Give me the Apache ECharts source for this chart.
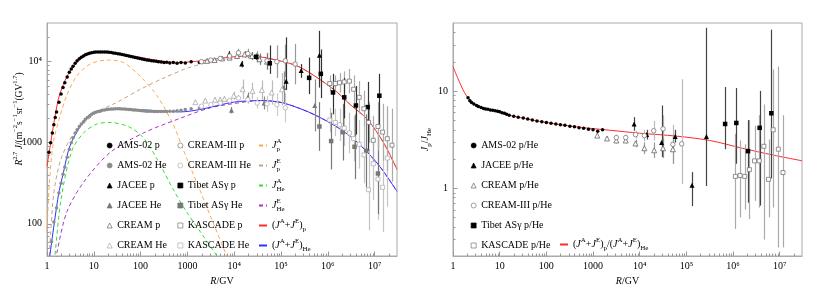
<!DOCTYPE html>
<html><head><meta charset="utf-8">
<script src="https://cdn.jsdelivr.net/npm/echarts@6/dist/echarts.min.js"></script>
<style>html,body{margin:0;padding:0;background:#fff}#c{width:830px;height:297px}</style>
</head><body><div id="c"></div>
<script>
// ---------- Left panel: model curves (R in GV, R^2.7 J) ----------
const curvePA_R = [1.0, 1.122, 1.365, 1.905, 2.63, 4.266, 8.318, 19.05, 42.66, 97.7, 223.9, 501, 831.8, 1862, 3981, 6918, 8913];
const curvePA_Y = [79, 316, 1000, 2138, 3802, 6607, 9333, 10470, 9772, 6607, 3802, 1660, 794, 257, 87, 40, 28];
const curvePE_R = [1.12, 1.202, 1.413, 1.995, 3.631, 11.48, 31.62, 100, 316.2, 1000, 3162, 10000, 21880, 79430, 257000, 1318000, 3020000, 6920000, 15500000, 30000000];
const curvePE_Y = [40, 79.4, 251, 631, 1259, 2344, 3162, 4571, 6310, 8318, 10000, 11220, 11750, 10470, 8510, 4570, 2950, 1950, 1000, 468];
const curveHeA_R = [1.413, 1.479, 1.995, 3.388, 6.026, 11.48, 22.39, 58.88, 114.8, 223.9, 501, 1000, 1995, 4266, 5012];
const curveHeA_Y = [28, 40, 200, 794, 1318, 1698, 1778, 1549, 1148, 631, 263, 135, 76, 40, 34];
const curveHeE_R = [1.549, 1.622, 2.63, 6.026, 22.39, 114.8, 692, 3090, 15490, 36310, 112200, 588800, 3020000, 11220000, 30000000];
const curveHeE_Y = [35.5, 43.7, 138, 324, 759, 1318, 1995, 2692, 3162, 3311, 3090, 2138, 1202, 562, 251];
const curveTotP_R = [1.0, 1.365, 1.738, 2.239, 3.09, 5.13, 8.32, 17.38, 69.18, 263, 692, 1862, 9550, 21880, 79430, 257000, 1318000, 3020000, 6920000, 15500000, 30000000];
const curveTotP_Y = [513, 1585, 3390, 5250, 7590, 10720, 12590, 13180, 11750, 10230, 9770, 10230, 11480, 11750, 10470, 8510, 4570, 2950, 1950, 1000, 468];
const curveTotHe_R = [1.148, 1.738, 2.239, 3.09, 5.13, 8.32, 13.49, 30.9, 158.5, 692, 1862, 9550, 36310, 112200, 588800, 3020000, 11220000, 30000000];
const curveTotHe_Y = [40, 219, 427, 912, 1585, 2239, 2512, 2630, 2512, 2399, 2570, 3162, 3311, 3090, 2138, 1202, 562, 251];

// ---------- Left panel: measurements ----------
const amsP_R = [1.1,1.2,1.3,1.4,1.5,1.6,1.8,2.0,2.2,2.4,2.7,3.0,3.3,3.6,4.0,4.4,4.9,5.4,6.0,6.6,7.3,8.1,9.0,10,11,12.3,13.7,15.2,17,19,21,23.5,26,29,32.5,36,40,45,50,56,62,69,77,86,96,107,120,135,150,170,190,215,240,275,315,360,420,500,600,730,900,1200,1800];
const amsP_Y = [760,1000,1320,1660,2040,2400,3160,3980,4790,5500,6460,7410,8130,8810,9550,10230,10840,11350,11750,12160,12450,12740,12880,13030,13120,13180,13180,13180,13180,13120,13030,12940,12820,12700,12560,12400,12250,12080,11910,11750,11590,11430,11270,11120,10960,10810,10670,10520,10400,10280,10180,10090,10000,9910,9770,9820,9660,9770,9550,9770,9660,10000,9770];
const amsHe_R = [1.25,1.4,1.6,1.8,2.0,2.2,2.4,2.7,3.0,3.3,3.6,4.0,4.4,4.9,5.4,6.0,6.6,7.3,8.1,9.0,10,11,12.3,13.7,15.2,17,19,21,23.5,26,29,32.5,36,40,45,50,56,62,69,77,86,96,107,120,135,150,170,190,215,240,275,315,360,420,500,600,730,900,1200,1800];
const amsHe_Y = [60,105,158,240,316,407,501,661,832,1000,1150,1320,1450,1585,1700,1820,1950,2040,2140,2240,2320,2370,2430,2450,2510,2540,2570,2580,2600,2610,2620,2620,2620,2610,2600,2590,2570,2560,2540,2530,2510,2500,2480,2470,2450,2440,2440,2430,2420,2420,2420,2430,2430,2450,2450,2480,2510,2570,2630,2690];
const jaceeP_R = [7760, 14450, 128800, 269000, 661000];
const jaceeP_Y = [12300, 9330, 5750, 7760, 12020];
const jaceeP_lo = [11220, 8510, 4467, 6310, 4786];
const jaceeP_hi = [13490, 10230, 19950, 9333, 23990];
const jaceeHe_R = [8710, 19500, 43650, 114800, 524800];
const jaceeHe_Y = [2512, 3631, 3090, 4786, 2884];
const jaceeHe_lo = [2291, 3162, 2570, 3020, 1380];
const jaceeHe_hi = [2754, 4169, 3715, 7590, 6030];
const creamP_R = [2630, 3802, 5495, 7943, 11480, 16600, 23990, 34670, 50120];
const creamP_Y = [10230, 10470, 10960, 11220, 11750, 12300, 11750, 10720, 10000];
const creamP_lo = [9770, 10000, 10470, 10470, 10960, 11220, 10470, 9120, 7940];
const creamP_hi = [10720, 10960, 11480, 12020, 12590, 13490, 13180, 12590, 12590];
const creamHe_R = [1479, 2399, 3890, 5012, 6166, 9772, 15140, 24550, 38900, 63100, 104700];
const creamHe_Y = [3162, 3311, 3388, 3388, 3467, 3802, 4571, 4365, 4467, 4169, 4571];
const creamHe_lo = [3020, 3162, 3162, 3162, 3236, 3388, 3467, 3467, 3388, 2951, 2884];
const creamHe_hi = [3311, 3467, 3631, 3631, 3715, 4266, 6026, 5495, 5888, 5888, 7244];
const cream3P_R = [1995, 3162, 5012, 7943, 12300, 19500, 30900, 50120, 81280, 123000, 199500];
const cream3P_Y = [10000, 10470, 10960, 11750, 12880, 12590, 11480, 10230, 10000, 10230, 9330];
const cream3P_lo = [9550, 10000, 10470, 10960, 11480, 10960, 9770, 8130, 6310, 6460, 5250];
const cream3P_hi = [10470, 10960, 11480, 12590, 14450, 14450, 13490, 12880, 15850, 16220, 16600];
const cream3He_R = [1995, 3162, 5012, 7943, 12300, 19500, 30900, 50120, 81280, 123000];
const cream3He_Y = [2818, 2951, 3090, 3311, 3548, 3388, 3090, 3020, 2951, 2692];
const cream3He_lo = [2692, 2818, 2884, 3090, 3236, 3020, 2630, 2399, 2138, 1778];
const cream3He_hi = [2951, 3090, 3311, 3548, 3890, 3802, 3631, 3802, 4074, 4074];
const tibetP_R = [29510, 57540, 398100, 707900, 1288000, 2239000, 3981000, 7079000, 12590000];
const tibetP_Y = [11480, 9550, 6310, 7080, 4170, 3630, 2880, 2750, 3800];
const tibetP_lo = [10470, 7080, 3980, 3550, 2240, 2000, 1260, 794, 1585];
const tibetP_hi = [12590, 15850, 11220, 14130, 7080, 6310, 5010, 5620, 7080];
const tibetHe_R = [660700, 1175000, 2089000, 3715000, 6607000, 11750000];
const tibetHe_Y = [1585, 1047, 1349, 891, 794, 417];
const tibetHe_lo = [794, 468, 603, 355, 282, 132];
const tibetHe_hi = [3162, 2344, 3020, 2239, 2239, 1318];
const kascadeP_R = [1096000, 1445000, 1778000, 2239000, 2884000, 3548000, 4677000, 5888000, 7413000, 9333000, 11750000, 14790000, 18620000, 23440000];
const kascadeP_Y = [5370, 5370, 5500, 5620, 5750, 4570, 3630, 2630, 1780, 1070, 1585, 1350, 1120, 933];
const kascadeP_lo = [4270, 4270, 4170, 4170, 4070, 3090, 2290, 1585, 1000, 537, 794, 603, 447, 331];
const kascadeP_hi = [6760, 6760, 7240, 7590, 8130, 6760, 5750, 4370, 3160, 2140, 3160, 3020, 2820, 2630];
const kascadeHe_R = [1096000, 1445000, 1778000, 2239000, 2884000, 3548000, 4677000, 5888000, 7413000, 9333000, 11750000, 14790000, 18620000];
const kascadeHe_Y = [1905, 1778, 1660, 1514, 1318, 1122, 955, 708, 263, 550, 355, 282, 646];
const kascadeHe_lo = [1349, 1202, 1047, 912, 741, 589, 479, 316, 83, 195, 112, 79, 162];
const kascadeHe_hi = [2692, 2630, 2630, 2512, 2344, 2138, 1905, 1585, 832, 1549, 1122, 1000, 2570];

// ---------- Right panel: p/He ratio ----------
const ratio_R = [1, 1.38, 1.95, 3.162, 7.244, 16.22, 85.11, 436.5, 2291, 10000, 60260, 316200, 1585000, 7079000, 30000000];
const ratio_Y = [17.8, 12.3, 8.91, 7.08, 6.31, 5.62, 4.79, 4.27, 3.94, 3.67, 3.43, 3.09, 2.57, 2.19, 1.91];
const amsRat_R = [2.1,2.3,2.5,2.8,3.2,3.5,4.0,4.5,5.0,5.6,6.3,7.1,8,9,10,11.2,12.6,14.1,16,20,25,32,40,50,63,80,100,126,160,200,250,320,400,500,630,800,1000,1260,1600];
const amsRat_Y = [8.51,7.94,7.59,7.33,7.08,6.92,6.76,6.61,6.53,6.46,6.38,6.31,6.24,6.17,6.10,5.96,5.89,5.75,5.62,5.50,5.37,5.25,5.13,5.01,4.90,4.82,4.73,4.66,4.57,4.49,4.42,4.34,4.27,4.17,4.12,4.03,3.98,3.85,3.98];
const jaceeRat_R = [7586, 14130, 29510, 57540, 131800, 269200];
const jaceeRat_Y = [4.57, 3.55, 2.95, 3.39, 1.07, 3.39];
const jaceeRat_lo = [3.89, 3.16, 2.09, 2.95, 0.653, 1.05];
const jaceeRat_hi = [5.37, 3.98, 7.08, 3.98, 1.46, 44.7];
const creamRat_R = [1230, 1995, 3162, 5012, 8128, 12590, 20420, 31620, 51290];
const creamRat_Y = [3.47, 3.24, 3.09, 3.09, 2.88, 2.57, 2.45, 2.57, 2.51];
const creamRat_lo = [3.31, 3.09, 2.88, 2.88, 2.63, 2.24, 2.04, 2.04, 1.78];
const creamRat_hi = [3.63, 3.39, 3.31, 3.31, 3.16, 2.95, 2.95, 3.24, 3.55];
const cream3Rat_R = [3162, 5012, 8128, 12590, 19950, 31620, 51290, 79430];
const cream3Rat_Y = [3.31, 3.31, 3.55, 3.47, 3.89, 4.07, 2.82, 2.85];
const cream3Rat_lo = [3.09, 3.09, 3.24, 3.02, 3.09, 2.95, 1.78, 1.10];
const cream3Rat_hi = [3.55, 3.55, 3.89, 3.98, 4.90, 5.62, 4.47, 13.2];
const tibetRat_R = [676100, 1175000, 2089000, 3715000, 6607000];
const tibetRat_Y = [4.57, 4.68, 2.40, 4.17, 5.89];
const tibetRat_lo = [2.51, 1.78, 0.708, 0.661, 1.26];
const tibetRat_hi = [10.96, 10.7, 5.01, 10.0, 42.7];
const kascadeRat_R = [1122000, 1413000, 1778000, 2239000, 2884000, 3631000, 4571000, 5754000, 7244000, 9333000, 11750000];
const kascadeRat_Y = [1.318, 1.349, 1.318, 1.549, 1.905, 1.905, 2.692, 1.230, 3.981, 2.512, 1.445];
const kascadeRat_lo = [0.38, 0.50, 0.60, 0.48, 0.74, 0.63, 0.295, 0.50, 0.63, 0.245, 0.245];
const kascadeRat_hi = [3.63, 3.09, 2.82, 5.01, 4.37, 5.62, 7.24, 3.16, 16.6, 17.8, 5.62];

// ---------- Axis ranges ----------
const X_MIN = 1, X_MAX = 3e7;
const YL_MIN = 40, YL_MAX = 3e4;
const YR_MIN = 0.2, YR_MAX = 50;

// ---------- Rendering ----------
const F = "'Liberation Serif','DejaVu Serif',serif";
const SUP = {4:'⁴',5:'⁵',6:'⁶',7:'⁷'};
function tickFmt(v){
  const l = Math.log10(v), e = Math.round(l);
  if (Math.abs(l - e) > 1e-3 || e < 0) return '';
  return e <= 3 ? String(Math.round(Math.pow(10, e))) : '10' + SUP[e];
}
const rich = {
  i:{fontFamily:F, fontStyle:'italic', fontSize:10, lineHeight:15, color:'#000'},
  sup:{fontFamily:F, fontSize:7, lineHeight:7, verticalAlign:'top', color:'#000'},
  supz:{fontFamily:F, fontSize:7, lineHeight:7, verticalAlign:'top', width:0.01, color:'#000'},
  sub:{fontFamily:F, fontSize:7, lineHeight:7, verticalAlign:'bottom', color:'#000'}
};
const LABEL = {
  'J_p^A':'{i|J}{supz|A}{sub|p}', 'J_p^E':'{i|J}{supz|E}{sub|p}',
  'J_He^A':'{i|J}{supz|A}{sub|He}', 'J_He^E':'{i|J}{supz|E}{sub|He}',
  '(J^A+J^E)_p':'({i|J}{sup|A}+{i|J}{sup|E}){sub|p}',
  '(J^A+J^E)_He':'({i|J}{sup|A}+{i|J}{sup|E}){sub|He}',
  'ratio':'({i|J}{sup|A}+{i|J}{sup|E}){sub|p}/({i|J}{sup|A}+{i|J}{sup|E}){sub|He}'
};
const zip = (a,b) => a.map((v,i)=>[v,b[i]]);
function ln(name, R, Y, color, dashed, xi, yi){
  return {type:'line', name, xAxisIndex:xi, yAxisIndex:yi, symbol:'none', smooth:0.3, clip:true, z:2,
    lineStyle:{color, width:1, type: dashed ? [4,3] : 'solid'}, itemStyle:{color}, data: zip(R,Y)};
}
function sc(name, R, Y, symbol, size, fill, border, xi, yi){
  return {type:'scatter', name, xAxisIndex:xi, yAxisIndex:yi, symbol, symbolSize:size, clip:true, z:5,
    itemStyle:{color:fill, borderColor:border || fill, borderWidth: border ? 0.8 : 0, opacity:1}, data: zip(R,Y)};
}
function eb(R, lo, hi, color, xi, yi){
  return {type:'custom', xAxisIndex:xi, yAxisIndex:yi, clip:true, silent:true, z:3,
    encode:{x:0, y:[1,2]},
    renderItem(params, api){
      const a = api.coord([api.value(0), api.value(1)]);
      const b = api.coord([api.value(0), api.value(2)]);
      const x = Math.round(a[0]) + 0.5;
      return {type:'line', shape:{x1:x, y1:a[1], x2:x, y2:b[1]}, style:{stroke:color, lineWidth:1.2}};
    },
    data: R.map((r,i)=>[r, lo[i], hi[i]])};
}
function minorVals(lo, hi){
  const out = [];
  for (let e = -2; e <= 8; e++) for (let m = 2; m <= 9; m++) {
    const v = +(m * Math.pow(10, e)).toPrecision(3);
    if (v > lo * 1.0001 && v < hi * 0.9999) out.push(v);
  }
  return out;
}
function minorTicks(xi, yi, dir, vals, fixed){
  return {type:'custom', xAxisIndex:xi, yAxisIndex:yi, silent:true, z:1, clip:false,
    data: vals.map(v => dir === 'x' ? [v, fixed] : [fixed, v]),
    renderItem(params, api){
      const p = api.coord([api.value(0), api.value(1)]);
      const shape = dir === 'x'
        ? {x1:Math.round(p[0])+0.5, y1:p[1], x2:Math.round(p[0])+0.5, y2:p[1]-2.5}
        : {x1:p[0], y1:Math.round(p[1])+0.5, x2:p[0]+2.5, y2:Math.round(p[1])+0.5};
      return {type:'line', shape, style:{stroke:'#999', lineWidth:1}};
    }};
}
function xAx(grid){
  return {type:'log', gridIndex:grid, min:X_MIN, max:X_MAX,
    name:'{i|R}/GV', nameLocation:'middle', nameGap:18, nameMoveOverlap:false,
    nameTextStyle:{fontFamily:F, fontSize:10, color:'#000', rich},
    axisLine:{show:true, lineStyle:{color:'#aaa'}},
    axisTick:{show:true, inside:true, length:4.5, lineStyle:{color:'#999'}},
    splitLine:{show:false}, minorTick:{show:false},
    axisLabel:{fontFamily:F, fontSize:10, color:'#000', margin:5, formatter:tickFmt, showMaxLabel:false}};
}
function yAx(grid, min, max, name, gap){
  return {type:'log', gridIndex:grid, min, max,
    name, nameLocation:'middle', nameGap:gap, nameRotate:90, nameMoveOverlap:false,
    nameTextStyle:{fontFamily:F, fontSize:10, color:'#000', lineHeight:15, rich},
    axisLine:{show:true, lineStyle:{color:'#aaa'}},
    axisTick:{show:true, inside:true, length:4.5, lineStyle:{color:'#999'}},
    splitLine:{show:false},
    axisLabel:{fontFamily:F, fontSize:10, color:'#000', margin:5, formatter:tickFmt, showMinLabel:false, showMaxLabel:false}};
}
const legText = {fontFamily:F, fontSize:10, color:'#000', lineHeight:15, rich};
function leg(left, top, data, w, lineOnly){
  const o = {left, top, orient:'vertical', padding:0, itemGap:5, itemWidth:w, itemHeight:5,
    selectedMode:false, data, textStyle:legText, formatter: n => LABEL[n] || n};
  o.itemStyle = lineOnly ? {opacity:0} : {borderWidth:0.7};
  return o;
}

const series = [
  ln('J_p^A', curvePA_R, curvePA_Y, '#ffa850', true, 0, 0),
  ln('J_p^E', curvePE_R, curvePE_Y, '#c4a484', true, 0, 0),
  ln('J_He^A', curveHeA_R, curveHeA_Y, '#33e033', true, 0, 0),
  ln('J_He^E', curveHeE_R, curveHeE_Y, '#a838c0', true, 0, 0),
  ln('(J^A+J^E)_p', curveTotP_R, curveTotP_Y, '#ff2a2a', false, 0, 0),
  ln('(J^A+J^E)_He', curveTotHe_R, curveTotHe_Y, '#3030ff', false, 0, 0),
  eb(kascadeHe_R, kascadeHe_lo, kascadeHe_hi, '#c4c4c4', 0, 0),
  eb(cream3He_R, cream3He_lo, cream3He_hi, '#cccccc', 0, 0),
  eb(creamHe_R, creamHe_lo, creamHe_hi, '#bbbbbb', 0, 0),
  eb(jaceeHe_R, jaceeHe_lo, jaceeHe_hi, '#888888', 0, 0),
  eb(tibetHe_R, tibetHe_lo, tibetHe_hi, '#777777', 0, 0),
  eb(kascadeP_R, kascadeP_lo, kascadeP_hi, '#aaaaaa', 0, 0),
  eb(cream3P_R, cream3P_lo, cream3P_hi, '#999999', 0, 0),
  eb(creamP_R, creamP_lo, creamP_hi, '#777777', 0, 0),
  eb(jaceeP_R, jaceeP_lo, jaceeP_hi, '#333333', 0, 0),
  eb(tibetP_R, tibetP_lo, tibetP_hi, '#333333', 0, 0),
  sc('AMS-02 p', amsP_R, amsP_Y, 'circle', 3.5, '#000', null, 0, 0),
  sc('AMS-02 He', amsHe_R, amsHe_Y, 'circle', 3.5, '#8c8c8c', null, 0, 0),
  sc('JACEE p', jaceeP_R, jaceeP_Y, 'triangle', 5, '#000', null, 0, 0),
  sc('JACEE He', jaceeHe_R, jaceeHe_Y, 'triangle', 5, '#777', null, 0, 0),
  sc('CREAM p', creamP_R, creamP_Y, 'triangle', 5, '#fff', '#666', 0, 0),
  sc('CREAM He', creamHe_R, creamHe_Y, 'triangle', 5, '#fff', '#aaa', 0, 0),
  sc('CREAM-III p', cream3P_R, cream3P_Y, 'circle', 4.5, '#fff', '#777', 0, 0),
  sc('CREAM-III He', cream3He_R, cream3He_Y, 'circle', 4.5, '#fff', '#b0b0b0', 0, 0),
  sc('Tibet ASγ p', tibetP_R, tibetP_Y, 'rect', 4.5, '#000', null, 0, 0),
  sc('Tibet ASγ He', tibetHe_R, tibetHe_Y, 'rect', 4.5, '#777', null, 0, 0),
  sc('KASCADE p', kascadeP_R, kascadeP_Y, 'rect', 4, '#fff', '#777', 0, 0),
  sc('KASCADE He', kascadeHe_R, kascadeHe_Y, 'rect', 4, '#fff', '#b0b0b0', 0, 0),
  ln('ratio', ratio_R, ratio_Y, '#ff2a2a', false, 1, 1),
  eb(kascadeRat_R, kascadeRat_lo, kascadeRat_hi, '#aaaaaa', 1, 1),
  eb(cream3Rat_R, cream3Rat_lo, cream3Rat_hi, '#bbbbbb', 1, 1),
  eb(creamRat_R, creamRat_lo, creamRat_hi, '#999999', 1, 1),
  eb(jaceeRat_R, jaceeRat_lo, jaceeRat_hi, '#444444', 1, 1),
  eb(tibetRat_R, tibetRat_lo, tibetRat_hi, '#444444', 1, 1),
  sc('AMS-02 p/He', amsRat_R, amsRat_Y, 'circle', 3.5, '#000', null, 1, 1),
  sc('JACEE p/He', jaceeRat_R, jaceeRat_Y, 'triangle', 5, '#000', null, 1, 1),
  sc('CREAM p/He', creamRat_R, creamRat_Y, 'triangle', 5, '#fff', '#666', 1, 1),
  sc('CREAM-III p/He', cream3Rat_R, cream3Rat_Y, 'circle', 4.5, '#fff', '#777', 1, 1),
  sc('Tibet ASγ p/He', tibetRat_R, tibetRat_Y, 'rect', 4.5, '#000', null, 1, 1),
  sc('KASCADE p/He', kascadeRat_R, kascadeRat_Y, 'rect', 4, '#fff', '#777', 1, 1),
  minorTicks(0, 0, 'x', minorVals(X_MIN, X_MAX), YL_MIN),
  minorTicks(0, 0, 'y', minorVals(YL_MIN, YL_MAX), X_MIN),
  minorTicks(1, 1, 'x', minorVals(X_MIN, X_MAX), YR_MIN),
  minorTicks(1, 1, 'y', minorVals(YR_MIN, YR_MAX), X_MIN)
];

const gRich = {
  i:{fontFamily:F, fontStyle:'italic', fontSize:9.5, lineHeight:14, fill:'#000'},
  sup:{fontFamily:F, fontSize:6.5, lineHeight:6.5, verticalAlign:'top', fill:'#000'}
};

const option = {
  animation:false,
  backgroundColor:'#fff',
  grid:[
    {left:47, top:23, width:350, height:233, show:true, borderColor:'#aaa', borderWidth:1},
    {left:453, top:23, width:349, height:233, show:true, borderColor:'#aaa', borderWidth:1}
  ],
  xAxis:[xAx(0), xAx(1)],
  yAxis:[
    yAx(0, YL_MIN, YL_MAX, '', 22),
    yAx(1, YR_MIN, YR_MAX, '{i|J}{sub|p}/{i|J}{sub|He}', 20)
  ],
  graphic:[{
    type:'text', x:19, y:119, rotation:Math.PI/2, silent:true,
    style:{text:'{i|R}{sup|2.7} {i|J}/(m{sup|−2}s{sup|−1}sr{sup|−1}(GV{sup|1.7})',
      fontFamily:F, fontSize:9.5, lineHeight:14, fill:'#000',
      align:'center', verticalAlign:'middle', textAlign:'center', textVerticalAlign:'middle', rich:gRich}
  }],
  legend:[
    leg(106.8, 138, ['AMS-02 p','AMS-02 He','JACEE p','JACEE He','CREAM p','CREAM He'], 5),
    leg(177.5, 138, ['CREAM-III p','CREAM-III He','Tibet ASγ p','Tibet ASγ He','KASCADE p','KASCADE He'], 5),
    leg(258, 138, ['J_p^A','J_p^E','J_He^A','J_He^E','(J^A+J^E)_p','(J^A+J^E)_He'], 8, true),
    leg(470.8, 138, ['AMS-02 p/He','JACEE p/He','CREAM p/He','CREAM-III p/He','Tibet ASγ p/He','KASCADE p/He'], 5),
    leg(559, 237, ['ratio'], 8, true)
  ],
  series
};
const chart = echarts.init(document.getElementById('c'), null, {renderer:'canvas'});
chart.setOption(option);
</script></body></html>
